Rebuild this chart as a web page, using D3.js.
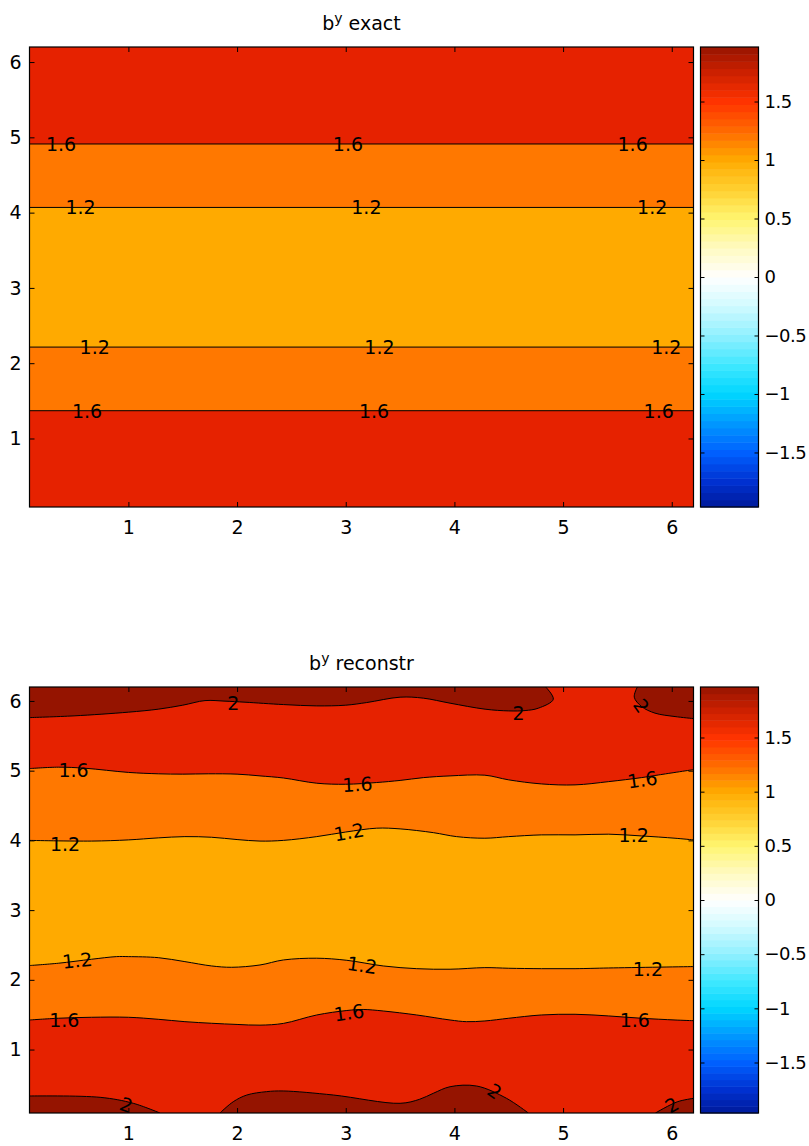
<!DOCTYPE html>
<html lang="en">
<head>
<meta charset="UTF-8">
<title>b^y exact / reconstr</title>
<script src="https://cdn.jsdelivr.net/npm/d3@7"></script>
<style>
  body { margin: 0; background: #fff; }
  text { font-family: "DejaVu Sans", sans-serif; fill: #000; }
</style>
</head>
<body>
<script>
// ---------- data ----------
var domain = [0.09, 6.2];
var xTicks = [1, 2, 3, 4, 5, 6];
var yTicks = [1, 2, 3, 4, 5, 6];
var cbTicks = [-1.5, -1, -0.5, 0, 0.5, 1, 1.5];
var cbRange = [-1.966, 1.966];

// colormap anchors (value -> colour)
var cmapVals = [-1.966, -1.75, -1.5, -1.25, -1.0, -0.75, -0.5, -0.25, 0, 0.25, 0.5, 0.75, 1.0, 1.25, 1.5, 1.75, 1.966];
var cmapCols = ["#001a9a", "#0030d0", "#0060ff", "#0098ff", "#00d5ff", "#40e8ff", "#90f0ff", "#d0faff", "#ffffff",
                "#fffac0", "#fff570", "#ffd030", "#ffaa00", "#ff6a00", "#ff3300", "#cc2000", "#981400"];

// contour levels 1.2, 1.6, 2 — exact field: horizontal lines
var exUp16 = [[0.09, 4.912], [6.2, 4.912]];
var exUp12 = [[0.09, 4.069], [6.2, 4.069]];
var exLo12 = [[0.09, 2.214], [6.2, 2.214]];
var exLo16 = [[0.09, 1.369], [6.2, 1.369]];
var exLabels = [
  [0.38, 4.912, "1.6", 0], [3.02, 4.912, "1.6", 0], [5.64, 4.912, "1.6", 0],
  [0.56, 4.069, "1.2", 0], [3.19, 4.069, "1.2", 0], [5.82, 4.069, "1.2", 0],
  [0.69, 2.214, "1.2", 0], [3.31, 2.214, "1.2", 0], [5.95, 2.214, "1.2", 0],
  [0.62, 1.369, "1.6", 0], [3.26, 1.369, "1.6", 0], [5.88, 1.369, "1.6", 0]
];

// reconstructed field: contour lines
var recUp16 = [[0.09, 5.03], [0.355, 5.05], [0.6, 5.035], [1.0, 4.975], [1.275, 4.955], [1.5, 4.95], [1.735, 4.955],
  [2.0, 4.95], [2.211, 4.925], [2.426, 4.895], [2.733, 4.82], [3.0, 4.805], [3.285, 4.83], [3.5, 4.86], [3.714, 4.9],
  [3.96, 4.925], [4.28, 4.935], [4.5, 4.868], [4.8, 4.81], [5.11, 4.796], [5.42, 4.843], [5.72, 4.9], [5.88, 4.939], [6.2, 5.015]];
var recUp12 = [[0.09, 4.0], [0.66, 3.99], [1.0, 4.007], [1.275, 4.036], [1.52, 4.054], [1.766, 4.045], [2.0, 4.012],
  [2.211, 3.99], [2.426, 4.0], [2.733, 4.054], [3.0, 4.12], [3.285, 4.175], [3.5, 4.165], [3.806, 4.111], [4.02, 4.054],
  [4.28, 4.031], [4.5, 4.054], [4.8, 4.079], [5.11, 4.079], [5.42, 4.089], [5.72, 4.064], [6.03, 4.031], [6.2, 4.007]];
var recLo12 = [[0.09, 2.205], [0.355, 2.238], [0.66, 2.295], [0.89, 2.333], [1.0, 2.333], [1.275, 2.318], [1.52, 2.261],
  [1.766, 2.199], [1.95, 2.18], [2.211, 2.213], [2.426, 2.285], [2.733, 2.31], [3.01, 2.28], [3.345, 2.199], [3.653, 2.16],
  [3.96, 2.152], [4.28, 2.175], [4.5, 2.166], [4.8, 2.16], [5.11, 2.16], [5.42, 2.17], [6.2, 2.19]];
var recLo16 = [[0.09, 1.424], [0.355, 1.449], [0.66, 1.463], [1.0, 1.463], [1.275, 1.434], [1.52, 1.4], [1.766, 1.377],
  [2.0, 1.36], [2.211, 1.35], [2.426, 1.375], [2.733, 1.496], [3.01, 1.56], [3.16, 1.575], [3.345, 1.553], [3.653, 1.496],
  [3.96, 1.424], [4.11, 1.4], [4.28, 1.41], [4.5, 1.449], [4.8, 1.496], [5.11, 1.506], [5.42, 1.482], [5.72, 1.449],
  [6.03, 1.424], [6.2, 1.414]];
// level-2 patches
var recTopLeft = [[0.09, 5.761], [0.5, 5.786], [1.0, 5.839], [1.275, 5.882], [1.5, 5.939], [1.705, 6.005], [1.889, 5.997],
  [2.073, 5.982], [2.426, 5.948], [2.733, 5.929], [3.0, 5.939], [3.193, 5.977], [3.5, 6.054], [3.714, 6.04], [3.96, 5.968],
  [4.282, 5.882], [4.5, 5.857], [4.65, 5.862], [4.772, 5.896], [4.91, 6.025], [4.84, 6.2]];
var recTopRight = [[5.683, 6.2], [5.655, 6.054], [5.723, 5.919], [5.846, 5.825], [6.03, 5.776], [6.2, 5.747]];
var recBotLeft = [[0.09, 0.334], [0.74, 0.315], [1.045, 0.229], [1.29, 0.09]];
var recBotMid = [[1.843, 0.09], [1.965, 0.252], [2.09, 0.348], [2.27, 0.396], [2.425, 0.406], [2.886, 0.348], [3.5, 0.229],
  [3.68, 0.287], [3.806, 0.373], [3.96, 0.467], [4.205, 0.477], [4.48, 0.3], [4.68, 0.09]];
var recBotRight = [[5.85, 0.09], [6.05, 0.25], [6.2, 0.3]];
var recLabels = [
  [1.965, 5.97, "2", 0], [4.59, 5.82, "2", 0], [5.72, 5.93, "2", 55],
  [0.495, 5.01, "1.6", 0], [3.108, 4.805, "1.6", -3], [5.73, 4.87, "1.6", -8],
  [0.417, 3.95, "1.2", 0], [3.03, 4.12, "1.2", -10], [5.65, 4.07, "1.2", 0],
  [0.53, 2.278, "1.2", -6], [3.15, 2.21, "1.2", 8], [5.78, 2.15, "1.2", 0],
  [0.41, 1.42, "1.6", 0], [3.03, 1.53, "1.6", -8], [5.66, 1.417, "1.6", 0],
  [0.98, 0.205, "2", 20], [4.37, 0.40, "2", 35], [6.0, 0.205, "2", -30]
];

// ---------- drawing ----------
var W = 809, H = 1146;
var bandCol = { mid: "#ffaa00", c12: "#ff7800", c16: "#e62200", c20: "#951400" };
var svg = d3.select("body").append("svg").attr("width", W).attr("height", H);

var panels = [
  { title: " exact", top: 47, bottom: 507, up16: exUp16, up12: exUp12, lo12: exLo12, lo16: exLo16, blobs: [], labels: exLabels },
  { title: " reconstr", top: 687, bottom: 1113, up16: recUp16, up12: recUp12, lo12: recLo12, lo16: recLo16,
    blobs: [recTopLeft, recTopRight, recBotLeft, recBotMid, recBotRight], labels: recLabels }
];

var cmap = d3.scaleLinear().domain(cmapVals).range(cmapCols).interpolate(d3.interpolateRgb);

panels.forEach(function(p, i) {
  var x = d3.scaleLinear().domain(domain).range([29.5, 693.5]);
  var y = d3.scaleLinear().domain(domain).range([p.bottom, p.top]);
  var g = svg.append("g");

  svg.append("clipPath").attr("id", "clip" + i)
    .append("rect").attr("x", x(domain[0])).attr("y", p.top)
    .attr("width", x(domain[1]) - x(domain[0])).attr("height", p.bottom - p.top);
  var body = g.append("g").attr("clip-path", "url(#clip" + i + ")");

  var curve = d3.curveCatmullRom.alpha(0.5);
  function areaTo(edge) {
    return d3.area().x(function(d){ return x(d[0]); }).y0(y(edge))
      .y1(function(d){ return y(d[1]); }).curve(curve);
  }
  var line = d3.line().x(function(d){ return x(d[0]); }).y(function(d){ return y(d[1]); }).curve(curve);

  body.append("rect").attr("x", x(domain[0])).attr("y", p.top)
    .attr("width", x(domain[1]) - x(domain[0])).attr("height", p.bottom - p.top).attr("fill", bandCol.mid);
  body.append("path").attr("d", areaTo(domain[1])(p.up12)).attr("fill", bandCol.c12);
  body.append("path").attr("d", areaTo(domain[0])(p.lo12)).attr("fill", bandCol.c12);
  body.append("path").attr("d", areaTo(domain[1])(p.up16)).attr("fill", bandCol.c16);
  body.append("path").attr("d", areaTo(domain[0])(p.lo16)).attr("fill", bandCol.c16);

  // close a patch along the frame
  function corner(pts) {
    var a = pts[0], b = pts[pts.length - 1];
    var onV = function(q){ return q[0] <= domain[0] + 1e-6 || q[0] >= domain[1] - 1e-6; };
    if (onV(a) && !onV(b)) return [a[0], b[1]];
    if (!onV(a) && onV(b)) return [b[0], a[1]];
    return null;
  }
  p.blobs.forEach(function(b) {
    var c = corner(b);
    var d = line(b) + (c ? "L" + x(c[0]) + "," + y(c[1]) : "") + "Z";
    body.append("path").attr("d", d).attr("fill", bandCol.c20);
  });

  [p.up16, p.up12, p.lo12, p.lo16].concat(p.blobs).forEach(function(l) {
    body.append("path").attr("d", line(l)).attr("fill", "none")
      .attr("stroke", "#000").attr("stroke-width", 1);
  });

  g.selectAll("text.clab").data(p.labels).enter().append("text")
    .attr("class", "clab")
    .attr("transform", function(d){ return "translate(" + x(d[0]) + "," + y(d[1]) + ") rotate(" + d[3] + ")"; })
    .attr("text-anchor", "middle").attr("dy", "0.36em")
    .style("font-size", "19px")
    .text(function(d){ return d[2]; });

  // axes, MATLAB style: ticks inside on all sides
  var fmt = d3.format("");
  var ax = g.append("g").attr("transform", "translate(0," + p.bottom + ")")
    .call(d3.axisBottom(x).tickValues(xTicks).tickFormat(fmt).tickSize(-5).tickSizeOuter(0).tickPadding(14));
  var ay = g.append("g").attr("transform", "translate(" + x(domain[0]) + ",0)")
    .call(d3.axisLeft(y).tickValues(yTicks).tickFormat(fmt).tickSize(-5).tickSizeOuter(0).tickPadding(8));
  var at = g.append("g").attr("transform", "translate(0," + p.top + ")")
    .call(d3.axisTop(x).tickValues(xTicks).tickFormat("").tickSize(-5).tickSizeOuter(0));
  var ar = g.append("g").attr("transform", "translate(" + x(domain[1]) + ",0)")
    .call(d3.axisRight(y).tickValues(yTicks).tickFormat("").tickSize(-5).tickSizeOuter(0));
  [ax, ay, at, ar].forEach(function(a) {
    a.select(".domain").remove();
    a.selectAll("line").attr("stroke", "#000");
    a.selectAll("text").style("font-size", "19px").attr("fill", "#000").style("font-family", "DejaVu Sans, sans-serif");
  });
  g.append("rect").attr("x", x(domain[0])).attr("y", p.top)
    .attr("width", x(domain[1]) - x(domain[0])).attr("height", p.bottom - p.top)
    .attr("fill", "none").attr("stroke", "#000").attr("stroke-width", 1.2);

  // title
  var t = g.append("text").attr("x", (x(domain[0]) + x(domain[1])) / 2).attr("y", p.top - 17)
    .attr("text-anchor", "middle").style("font-size", "19px");
  t.append("tspan").text("b");
  t.append("tspan").attr("dy", -7).style("font-size", "14px").text("y");
  t.append("tspan").attr("dy", 7).text(p.title);

  // colorbar
  var cx0 = 700.5, cx1 = 758.5;
  var cy = d3.scaleLinear().domain(cbRange).range([p.bottom, p.top]);
  var n = 64, step = (cbRange[1] - cbRange[0]) / n;
  var cb = g.append("g");
  cb.selectAll("rect").data(d3.range(n)).enter().append("rect")
    .attr("x", cx0).attr("width", cx1 - cx0)
    .attr("y", function(k){ return cy(cbRange[0] + (k + 1) * step); })
    .attr("height", function(k){ return cy(cbRange[0] + k * step) - cy(cbRange[0] + (k + 1) * step) + 0.5; })
    .attr("fill", function(k){ return cmap(cbRange[0] + (k + 0.5) * step); });
  var cr = cb.append("g").attr("transform", "translate(" + cx1 + ",0)")
    .call(d3.axisRight(cy).tickValues(cbTicks).tickFormat(d3.format("")).tickSize(-4).tickSizeOuter(0).tickPadding(6));
  var cl = cb.append("g").attr("transform", "translate(" + cx0 + ",0)")
    .call(d3.axisLeft(cy).tickValues(cbTicks).tickFormat("").tickSize(-4).tickSizeOuter(0));
  [cr, cl].forEach(function(a) {
    a.select(".domain").remove();
    a.selectAll("line").attr("stroke", "#000");
    a.selectAll("text").style("font-size", "18px").style("letter-spacing", "-0.5px")
      .attr("fill", "#000").style("font-family", "DejaVu Sans, sans-serif");
  });
  cb.append("rect").attr("x", cx0).attr("y", p.top).attr("width", cx1 - cx0).attr("height", p.bottom - p.top)
    .attr("fill", "none").attr("stroke", "#000").attr("stroke-width", 1.2);
});
</script>
</body>
</html>
